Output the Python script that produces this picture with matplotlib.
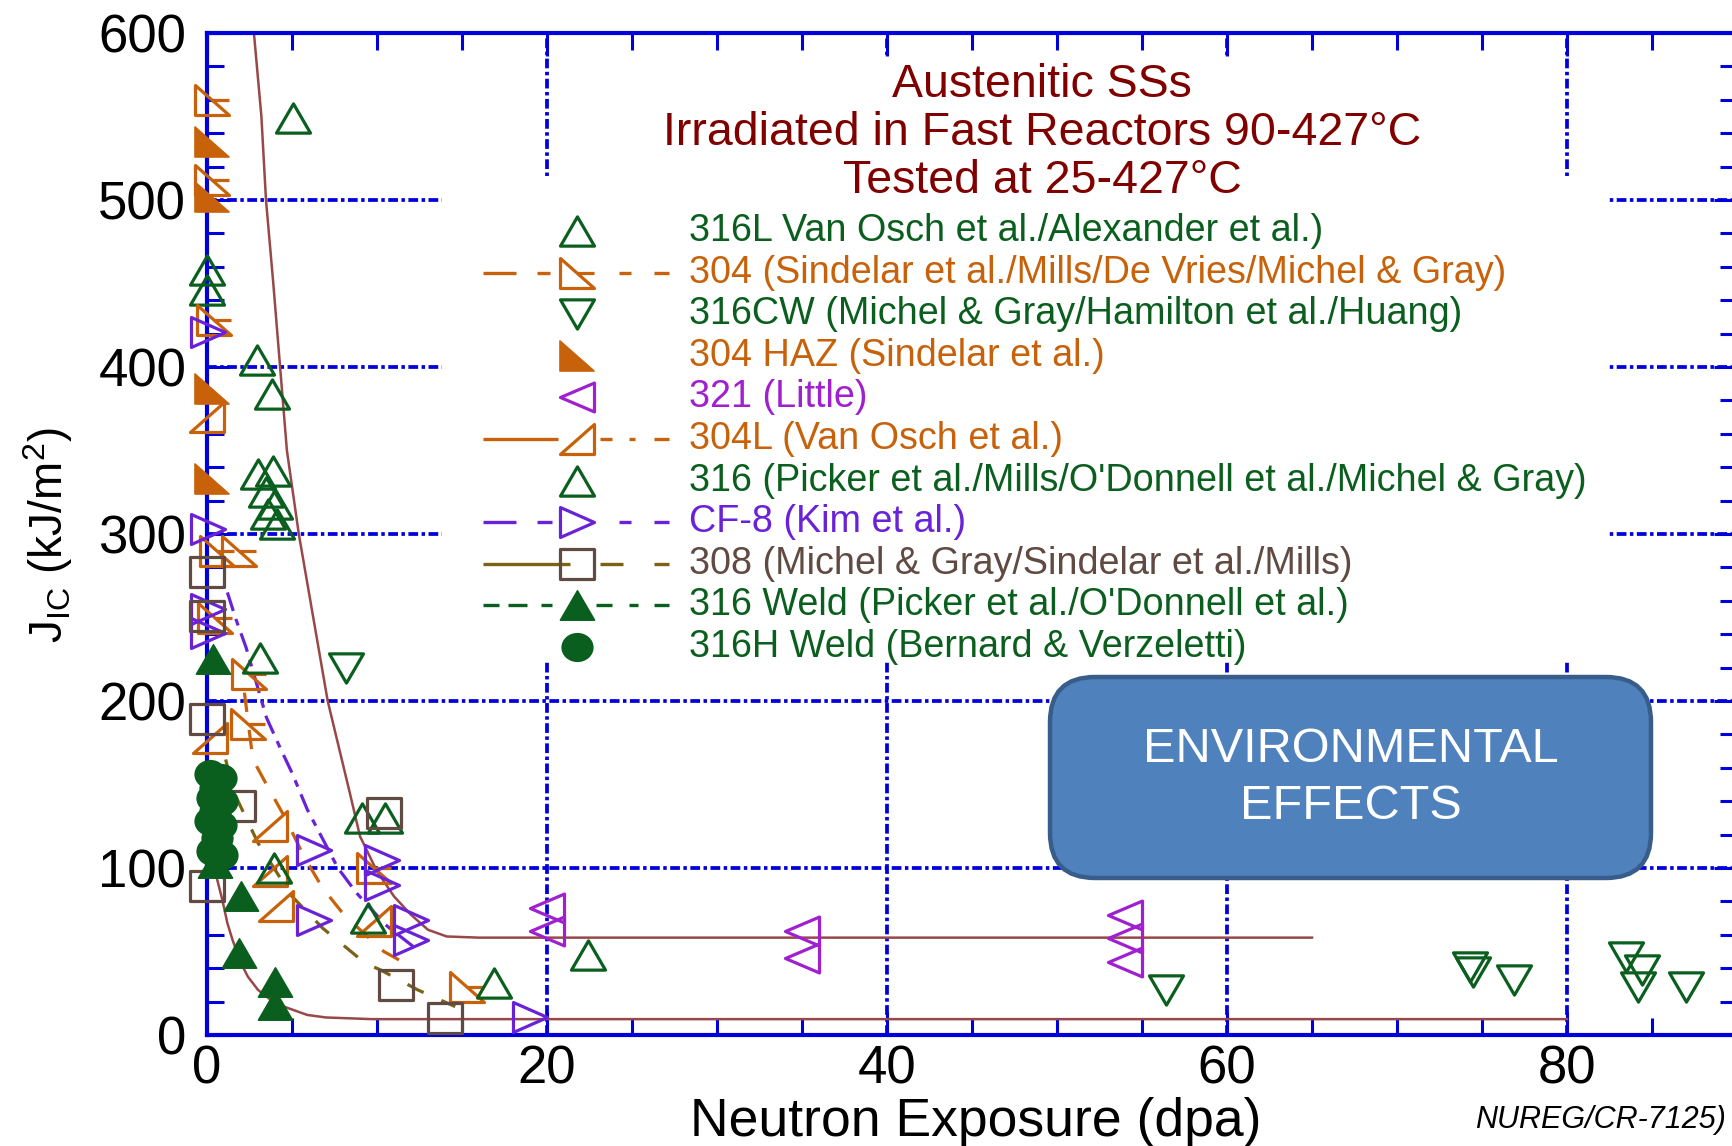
import matplotlib
matplotlib.use('Agg')
import matplotlib.pyplot as plt
from matplotlib.path import Path
from matplotlib.patches import Rectangle, FancyBboxPatch
from matplotlib.transforms import Affine2D

plt.rcParams['font.family'] = ['Liberation Sans', 'DejaVu Sans']
plt.rcParams['mathtext.fontset'] = 'custom'
plt.rcParams['mathtext.rm'] = 'Liberation Sans'
plt.rcParams['mathtext.it'] = 'Liberation Sans:italic'
plt.rcParams['lines.scale_dashes'] = False

# J_IC (kJ/m2) against neutron exposure (dpa), one pair of lists per material
ss316L_x = [5.07, 0.0, 0.0, 2.95, 3.8]
ss316L_y = [549, 458, 446, 404, 384]

ss304_x = [0.3, 0.3, 0.4, 0.5, 0.6, 1.9, 2.5, 2.4, 9.8, 15.3]
ss304_y = [560, 512, 428, 250, 290, 290, 216, 186, 100, 28.5]

ss316cw_x = [8.2, 56.4, 74.3, 74.5, 76.9, 83.5, 84.4, 84.2, 87.0]
ss316cw_y = [220, 27, 41, 38, 33, 47, 39, 29, 29]

haz304_x = [0.3, 0.3, 0.3, 0.3]
haz304_y = [535, 502, 387, 333]

ss321_x = [20.0, 20.0, 35.0, 35.0, 54.0, 54.0, 54.0]
ss321_y = [76, 62, 62, 46, 72, 58, 44]

ss304L_x = [0.0, 0.2, 3.7, 3.7, 4.05, 9.8]
ss304L_y = [370, 178, 125, 98, 77, 68]

ss316_x = [3.0, 3.9, 3.5, 4.0, 3.6, 4.1, 3.1, 3.95, 9.5, 9.1, 10.5, 16.9, 22.4]
ss316_y = [336, 338, 325, 318, 312, 306, 226, 100, 70, 130, 130, 31, 48]

cf8_x = [0.05, 0.05, 0.05, 0.05, 6.3, 6.3, 10.3, 10.3, 12.0, 12.0, 19.0]
cf8_y = [421, 303, 255, 241, 111, 69, 105, 90, 69, 57, 10.5]

ss308_x = [0.0, 0.0, 0.0, 1.8, 0.0, 10.4, 11.1, 14.0]
ss308_y = [277, 251, 189, 137, 89, 133, 30, 10]

weld316_x = [0.35, 0.47, 2.0, 1.9, 4.0, 4.0]
weld316_y = [225, 103, 83, 49, 32, 18]

weld316h_x = [0.2, 0.8, 0.3, 0.9, 0.5, 0.5, 0.2, 0.8, 0.6, 0.3, 0.9]
weld316h_y = [156, 154, 142, 140, 148, 134, 128, 126, 118, 110, 108]

# trend curves
upper_x = [2.76, 3.2, 3.47, 3.9, 4.3, 4.7, 5.4, 6.25, 7.1, 8.4, 9.0, 10.0, 11.0, 12.0, 13.0, 14.1, 16.0, 65.0]
upper_y = [600, 550, 500, 450, 400, 350, 300, 250, 200, 145, 119, 98, 83, 72, 63, 59, 58.3, 58.3]
lower_x = [0.45, 0.6, 0.9, 1.2, 1.5, 2.0, 2.4, 3.0, 4.0, 4.8, 5.9, 7.0, 9.7, 80.0]
lower_y = [110, 93, 81, 67, 57, 43, 35, 27, 19, 16, 12, 10.5, 9.5, 9.5]
trend304_x = [2.2, 2.7, 3.5, 4.6, 5.7, 6.8, 7.9, 8.9, 10.4, 12.0]
trend304_y = [205, 165, 150, 130, 107, 88, 74, 64, 50, 41]
trendcf8_x = [1.2, 1.7, 2.3, 3.5, 4.3, 5.0, 5.9, 7.7, 8.8, 10.5, 12.5]
trendcf8_y = [265, 249, 232, 190, 172, 157, 135, 100, 85, 66, 50]
trend308_x = [1.1, 1.5, 3.0, 5.0, 6.8, 7.4, 9.3, 10.2, 12.4, 14.6]
trend308_y = [165, 147, 115, 83, 64, 59, 43, 39, 27, 17]

x_ticks = [0, 20, 40, 60, 80]
y_ticks = [0, 100, 200, 300, 400, 500, 600]

BLUE = '#0000dd'
GREEN = '#0b5f1e'
ORANGE = '#c8620a'
PURPLE = '#a020d0'
VIOLET = '#6a22d8'
BROWN = '#604a42'
OLIVE = '#7a6414'
MAROON = '#984848'
TITLE_RED = '#800000'


def marker_path(verts, extra=()):
    v = list(verts) + [verts[0]]
    codes = [Path.MOVETO] + [Path.LINETO] * (len(verts) - 1) + [Path.CLOSEPOLY]
    for seg in extra:
        v += seg
        codes += [Path.MOVETO, Path.LINETO]
    return Path(v, codes)


h = 0.86
TRI_UP = marker_path([(0, h), (-1, -h), (1, -h)])
TRI_DOWN = marker_path([(0, -h), (-1, h), (1, h)])
TRI_LEFT = marker_path([(-1, 0), (1, 0.85), (1, -0.85)])
TRI_RIGHT = marker_path([(1, 0), (-1, 0.88), (-1, -0.88)])
RT_304 = marker_path([(-1, h), (-1, -h), (1, -h)], extra=[[(0.05, 0), (1, 0)]])
RT_HAZ = marker_path([(-1, h), (-1, -h), (1, -h)])
RT_304L = marker_path([(1, h), (1, -h), (-1, -h)])
SQUARE = marker_path([(-1, -0.9), (1, -0.9), (1, 0.9), (-1, 0.9)])
OVAL = Affine2D().scale(1, 0.9).transform_path(Path.unit_circle())

MS = 24.5
EW = 2.3

# label, colour, marker, filled, xs, ys
series = [
    ('316L Van Osch et al./Alexander et al.)', GREEN, TRI_UP, False, ss316L_x, ss316L_y),
    ('304 (Sindelar et al./Mills/De Vries/Michel & Gray)', ORANGE, RT_304, False, ss304_x, ss304_y),
    ('316CW (Michel & Gray/Hamilton et al./Huang)', GREEN, TRI_DOWN, False, ss316cw_x, ss316cw_y),
    ('304 HAZ (Sindelar et al.)', ORANGE, RT_HAZ, True, haz304_x, haz304_y),
    ('321 (Little)', PURPLE, TRI_LEFT, False, ss321_x, ss321_y),
    ('304L (Van Osch et al.)', ORANGE, RT_304L, False, ss304L_x, ss304L_y),
    ("316 (Picker et al./Mills/O'Donnell et al./Michel & Gray)", GREEN, TRI_UP, False, ss316_x, ss316_y),
    ('CF-8 (Kim et al.)', VIOLET, TRI_RIGHT, False, cf8_x, cf8_y),
    ('308 (Michel & Gray/Sindelar et al./Mills)', BROWN, SQUARE, False, ss308_x, ss308_y),
    ("316 Weld (Picker et al./O'Donnell et al.)", GREEN, TRI_UP, True, weld316_x, weld316_y),
    ('316H Weld (Bernard & Verzeletti)', GREEN, OVAL, True, weld316h_x, weld316h_y),
]

# legend line pieces (pixel spans) for the entries that carry a line
legend_lines = {
    1: (ORANGE, [(483, 516), (537, 550), (619, 631), (654, 669)]),
    5: (ORANGE, [(483, 558), (600, 612), (629, 635), (654, 669)]),
    7: (VIOLET, [(483, 516), (537, 552), (619, 631), (654, 669)]),
    8: (OLIVE, [(483, 570), (600, 623), (654, 669)]),
    9: (GREEN, [(483, 499), (508, 527), (541, 552), (596, 612), (629, 638), (654, 669)]),
}

W, H = 1733, 1146
AX_L, AX_R, AX_T, AX_B = 207, 1737, 33, 1035

fig = plt.figure(figsize=(W / 100, H / 100), dpi=100)
ax = fig.add_axes([AX_L / W, (H - AX_B) / H, (AX_R - AX_L) / W, (AX_B - AX_T) / H])


def ax_x(px):
    return (px - AX_L) / (AX_R - AX_L)


def ax_y(py):
    return (AX_B - py) / (AX_B - AX_T)


ax.set_xlim(0, 90)
ax.set_ylim(0, 600)
ax.set_xticks(x_ticks)
ax.set_xticks(range(0, 91, 5), minor=True)
ax.set_yticks(y_ticks)
ax.set_yticks(range(0, 601, 20), minor=True)
ax.tick_params(which='both', direction='in', top=True, right=True, color=BLUE, width=2.2)
ax.tick_params(which='major', length=16.5)
ax.tick_params(which='minor', length=12.5)
ax.tick_params(axis='x', labelsize=38, pad=7)
ax.tick_params(axis='y', labelsize=38, pad=15)
for sp in ax.spines.values():
    sp.set_color(BLUE)
    sp.set_linewidth(3)
ax.grid(True, which='major', color=BLUE, linewidth=2.7, linestyle=(0, (7, 2.5, 2.5, 2.5)))

# white panels behind the heading and the key
ax.add_patch(Rectangle((ax_x(442), ax_y(660)), ax_x(1608) - ax_x(442), ax_y(177) - ax_y(660),
                       transform=ax.transAxes, facecolor='white', edgecolor='none', zorder=1.8))
ax.add_patch(Rectangle((ax_x(600), ax_y(177)), ax_x(1500) - ax_x(600), ax_y(57) - ax_y(177),
                       transform=ax.transAxes, facecolor='white', edgecolor='none', zorder=1.8))

# trend curves
ax.plot(upper_x, upper_y, color=MAROON, lw=1.8, zorder=2.5)
ax.plot(lower_x, lower_y, color=MAROON, lw=1.8, zorder=2.5)
ax.plot(trend304_x, trend304_y, color=ORANGE, lw=2.3, linestyle=(0, (14, 13)), zorder=2.5)
ax.plot(trendcf8_x, trendcf8_y, color=VIOLET, lw=2.3, linestyle=(0, (14, 6, 5, 6)), zorder=2.5)
ax.plot(trend308_x, trend308_y, color=OLIVE, lw=2.3, linestyle=(0, (13, 14)), zorder=2.5)

for label, col, mk, filled, xs, ys in series:
    ax.plot(xs, ys, linestyle='none', marker=mk, ms=MS if mk is not OVAL else 22,
            mec=col, mfc=col if filled else 'none', mew=EW if not filled else 1.2,
            clip_on=False, zorder=3)

# heading
for text, base in [('Austenitic SSs', 97),
                   ('Irradiated in Fast Reactors 90-427°C', 145),
                   ('Tested at 25-427°C', 193)]:
    ax.text(ax_x(1042), ax_y(base), text, transform=ax.transAxes, ha='center',
            va='baseline', fontsize=33.5, color=TITLE_RED, zorder=4)

# key
for i, (label, col, mk, filled, xs, ys) in enumerate(series):
    yr = ax_y(231 + 41.6 * i)
    if i in legend_lines:
        lcol, spans = legend_lines[i]
        for a, b in spans:
            ax.plot([ax_x(a), ax_x(b)], [yr, yr], transform=ax.transAxes, color=lcol,
                    lw=2.4, solid_capstyle='butt', clip_on=False, zorder=4)
    ax.plot([ax_x(577)], [yr], transform=ax.transAxes, linestyle='none', marker=mk,
            ms=MS if mk is not OVAL else 22, mec=col, mfc=col if filled else 'none',
            mew=EW if not filled else 1.2, clip_on=False, zorder=5)
    ax.text(ax_x(689), yr, label, transform=ax.transAxes, ha='left', va='center',
            fontsize=27.2, color=col, zorder=5)

fig.text(976 / W, (H - 1136) / H, 'Neutron Exposure (dpa)', ha='center', va='baseline',
         fontsize=38.5)
fig.text(48 / W, (H - 535) / H, r'J$_{\mathrm{IC}}$ (kJ/m$^2$)', rotation=90,
         ha='center', va='center', fontsize=33)
fig.text(1475 / W, (H - 1128) / H, 'NUREG/CR-7125)', style='italic', fontsize=22,
         ha='left', va='baseline')

# callout box
box = FancyBboxPatch((1050 / W, (H - 878) / H), 601 / W, 201 / H,
                     boxstyle='round,pad=0,rounding_size=0.026',
                     mutation_aspect=W / H, transform=fig.transFigure,
                     facecolor='#4f81bd', edgecolor='#385d8a', linewidth=3.2, zorder=5)
fig.patches.append(box)
fig.text(1351 / W, (H - 778) / H, 'ENVIRONMENTAL\nEFFECTS', ha='center', va='center',
         fontsize=35, color='white', linespacing=1.35, zorder=6)

fig.savefig('out.png', dpi=100)
